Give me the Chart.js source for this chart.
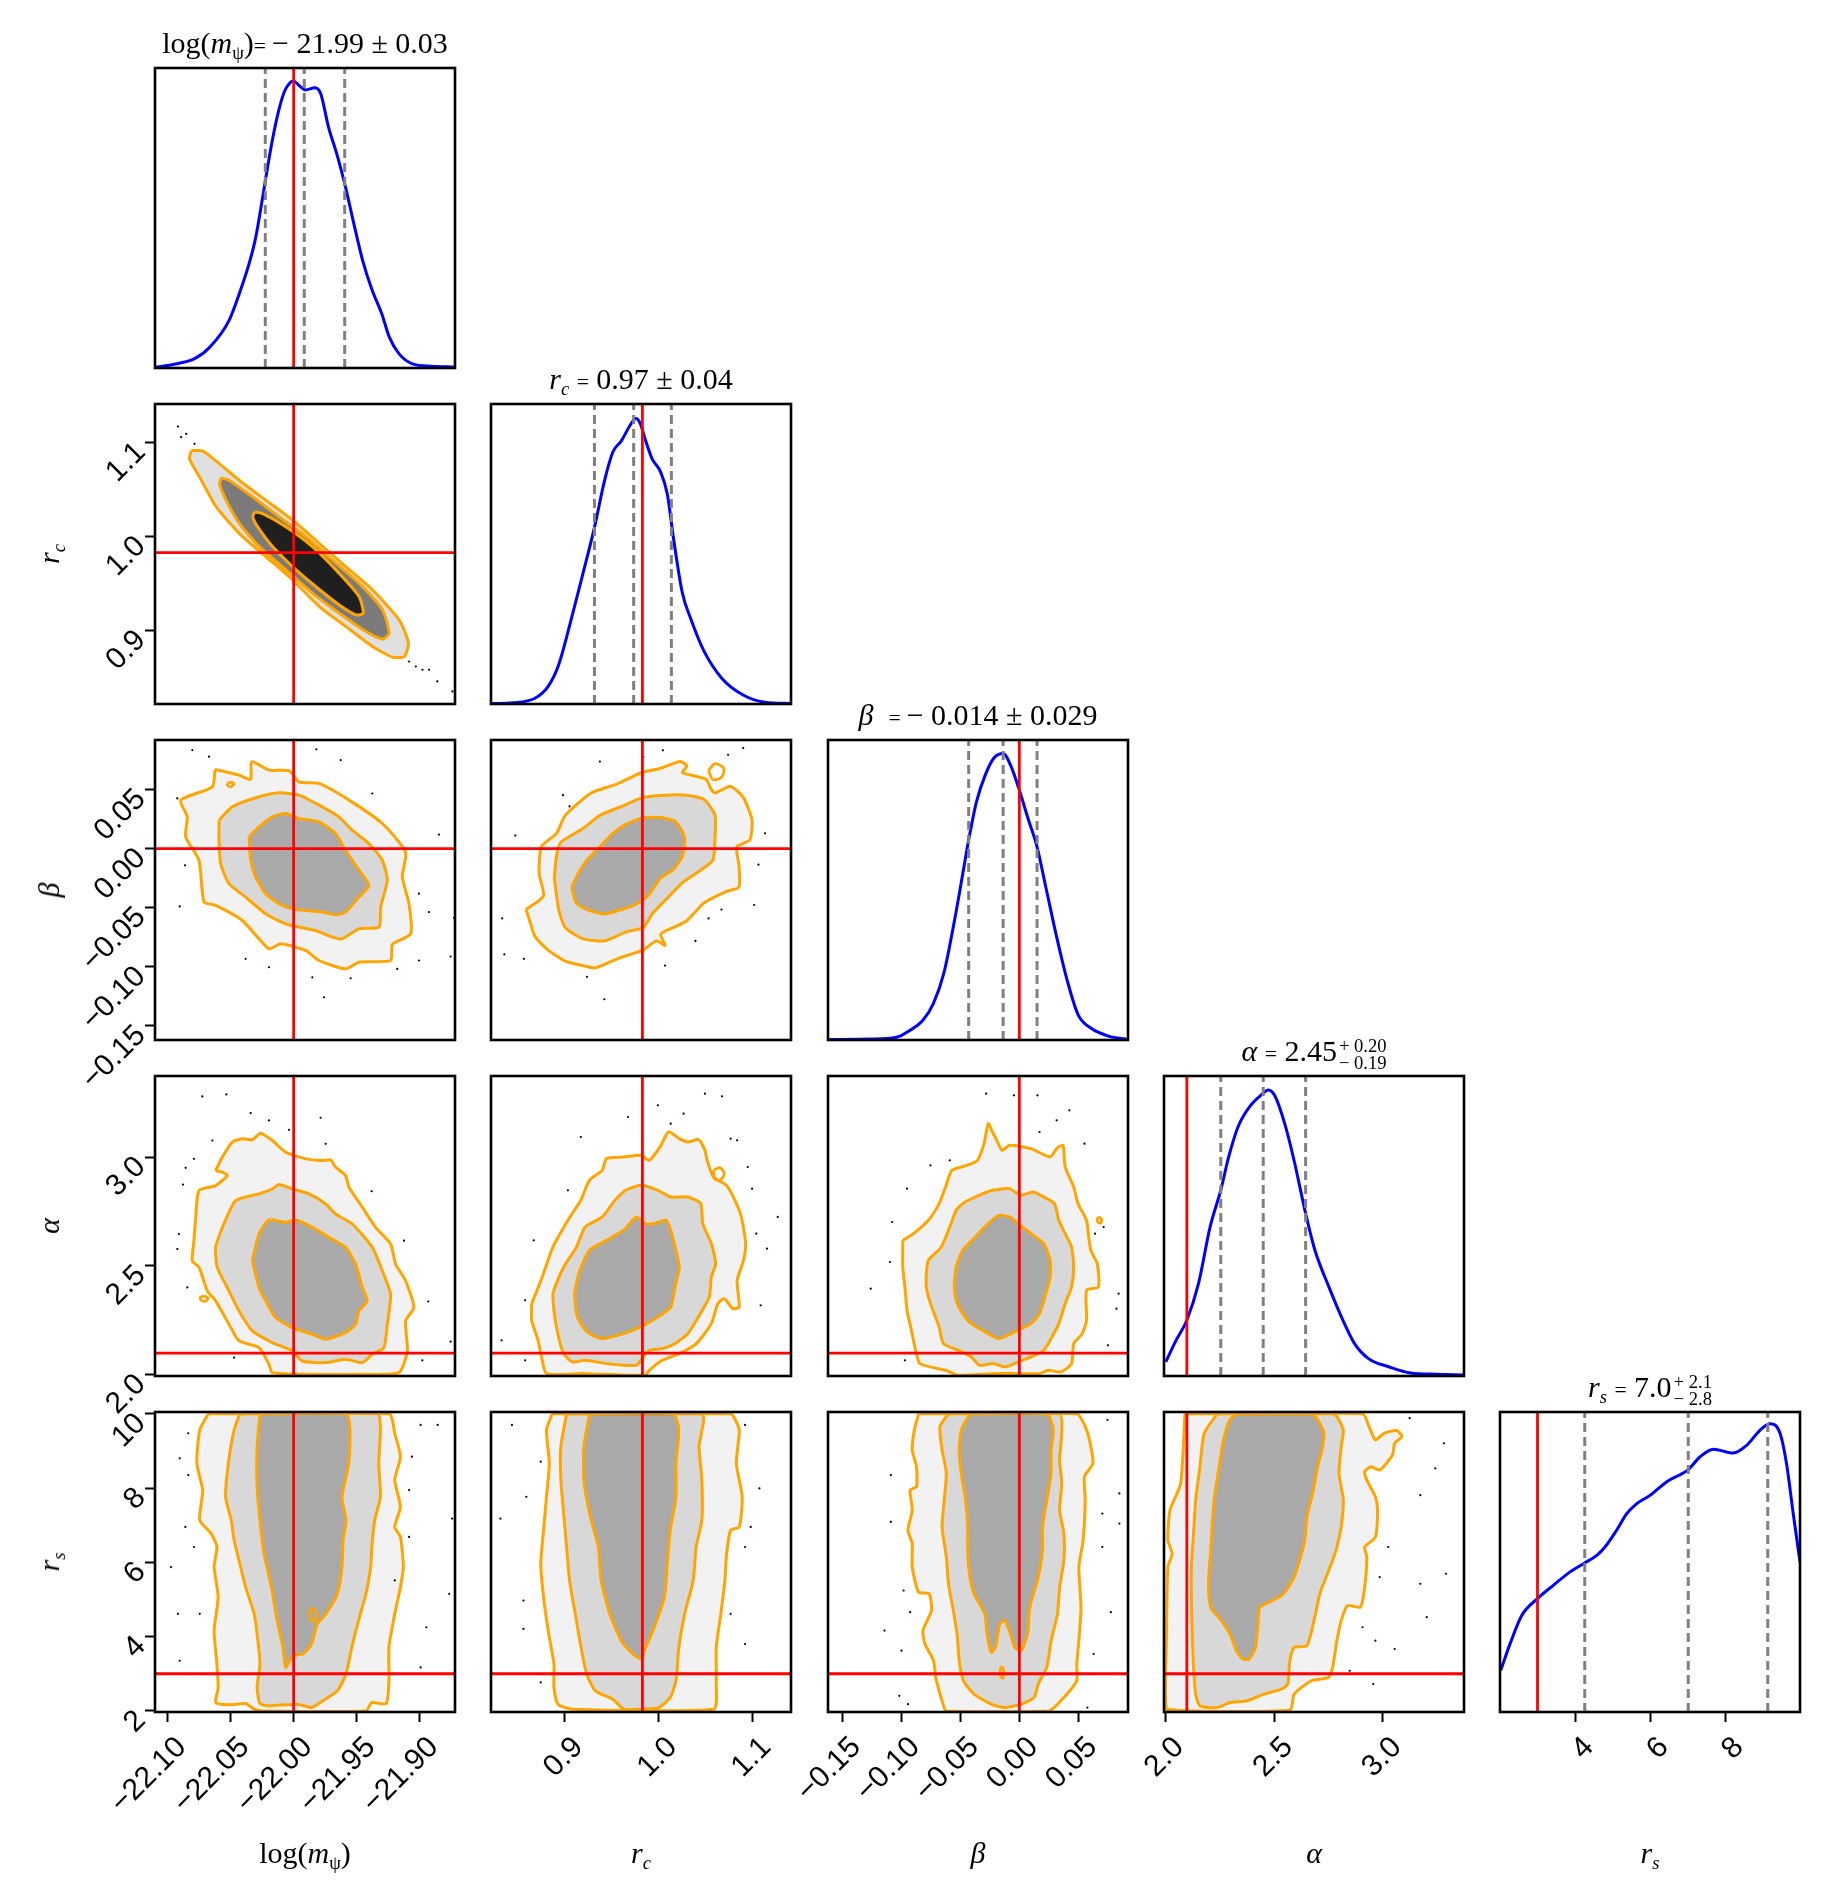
<!DOCTYPE html>
<html><head><meta charset="utf-8">
<script src="https://cdn.jsdelivr.net/npm/chart.js"></script>
<style>
html,body{margin:0;padding:0;background:#fff;}
body{width:1832px;height:1900px;position:relative;overflow:hidden;font-family:'Liberation Serif','DejaVu Serif',serif;color:#000;}
canvas{position:absolute;}
.t{position:absolute;text-align:center;white-space:nowrap;font-size:30px;line-height:40px;height:40px;}
.lab{position:absolute;white-space:nowrap;font-size:30px;line-height:32px;}
.eq{font-size:0.72em;}
sub{font-size:0.62em;vertical-align:-0.3em;line-height:0;}
.ss{display:inline-block;vertical-align:-0.45em;font-size:0.62em;line-height:0.95;text-align:left;margin-left:2px;}
.ss span{display:block;}
</style></head><body>
<script>
// ---------------- data ----------------
const RANGE_LOGM = [-22.110, -21.872];
const RANGE_RC = [0.822, 1.141];
const RANGE_BETA = [-0.162, 0.092];
const RANGE_ALPHA = [1.994, 3.373];
const RANGE_RS = [1.97, 10.05];
const RANGE_RS_DIAG = [2.0, 10.0];

const TICKS_LOGM = [-22.10, -22.05, -22.00, -21.95, -21.90];
const TICKS_RC = [0.9, 1.0, 1.1];
const TICKS_BETA = [-0.15, -0.10, -0.05, 0.00, 0.05];
const TICKS_ALPHA = [2.0, 2.5, 3.0];
const TICKS_RS = [2, 4, 6, 8, 10];
const TICKS_RS_DIAG = [4, 6, 8];

const TRUTHS = [-22.00, 0.983, 0.000, 2.099, 3.0];

const QUANT_LOGM = [-22.0225, -21.9916, -21.9595];
const QUANT_RC = [0.932, 0.9737, 1.0138];
const QUANT_BETA = [-0.0429, -0.0137, 0.0150];
const QUANT_ALPHA = [2.255, 2.450, 2.645];
const QUANT_RS = [4.26, 7.02, 9.14];

const KDE_LOGM_X = [-22.110,-22.0967,-22.0786,-22.0664,-22.0512,-22.0422,-22.0346,-22.0300,-22.0241,-22.0179,-22.0124,-22.0074,-22.0029,-22.0003,-21.9953,-21.9908,-21.9831,-21.9786,-21.9724,-21.9651,-21.9589,-21.9529,-21.9453,-21.9377,-21.9301,-21.9241,-21.9165,-21.9058,-21.8908,-21.872];
const KDE_LOGM_Y = [0.003,0.011,0.031,0.070,0.159,0.259,0.359,0.437,0.582,0.737,0.849,0.921,0.951,0.957,0.940,0.927,0.934,0.915,0.804,0.704,0.604,0.493,0.359,0.259,0.181,0.103,0.048,0.014,0.006,0.003];
const KDE_RC_X = [0.822,0.8455,0.8687,0.8824,0.8940,0.9077,0.9192,0.9324,0.9426,0.9516,0.9608,0.9701,0.9762,0.9804,0.9864,0.9932,1.0024,1.0095,1.0162,1.0255,1.0348,1.0485,1.0671,1.0901,1.1132,1.141];
const KDE_RC_Y = [0.0015,0.004,0.019,0.057,0.131,0.287,0.428,0.594,0.743,0.840,0.878,0.930,0.952,0.937,0.878,0.818,0.773,0.699,0.549,0.370,0.281,0.176,0.087,0.030,0.006,0.0015];
const KDE_BETA_X = [-0.162,-0.1262,-0.1041,-0.0932,-0.0820,-0.0728,-0.0637,-0.0546,-0.0472,-0.0429,-0.0363,-0.0289,-0.0215,-0.0137,-0.0071,-0.0005,0.0077,0.0150,0.0224,0.0315,0.0407,0.0498,0.0608,0.0755,0.092];
const KDE_BETA_Y = [0.0015,0.003,0.009,0.031,0.064,0.121,0.226,0.405,0.570,0.667,0.794,0.883,0.940,0.955,0.913,0.839,0.734,0.644,0.510,0.345,0.196,0.084,0.039,0.013,0.0015];
const KDE_ALPHA_X = [2.0026,2.0454,2.0989,2.1525,2.2060,2.2552,2.2916,2.3345,2.3880,2.4415,2.4736,2.5057,2.5486,2.5914,2.6450,2.6878,2.7520,2.8162,2.8698,2.9340,3.0304,3.1268,3.2445,3.3730];
const KDE_ALPHA_Y = [0.047,0.113,0.186,0.308,0.497,0.620,0.731,0.831,0.898,0.937,0.953,0.931,0.842,0.720,0.542,0.419,0.297,0.186,0.108,0.058,0.030,0.010,0.006,0.003];
const KDE_RS_X = [2.02,2.27,2.58,3.0,3.42,3.87,4.26,4.58,4.80,5.11,5.38,5.64,6.0,6.44,7.02,7.33,7.69,8.22,8.58,8.93,9.2,9.47,9.64,9.82,10.0];
const KDE_RS_Y = [0.139,0.228,0.322,0.378,0.422,0.467,0.497,0.522,0.550,0.606,0.661,0.694,0.722,0.767,0.808,0.850,0.876,0.863,0.889,0.939,0.961,0.928,0.828,0.661,0.5];

// r_c vs log(m)
const CONT_RC_LOGM_OUTER = [[-22.0812,1.0915],[-22.0720,1.0908],[-22.0588,1.0774],[-22.0430,1.0597],[-22.0219,1.0385],[-22.0007,1.0174],[-21.9796,0.9926],[-21.9585,0.9679],[-21.9374,0.9432],[-21.9163,0.9114],[-21.9089,0.8866],[-21.9123,0.8725],[-21.9216,0.8718],[-21.9374,0.8831],[-21.9585,0.9043],[-21.9796,0.9255],[-22.0007,0.9538],[-22.0219,0.9785],[-22.0430,1.0032],[-22.0614,1.0315],[-22.0746,1.0633],[-22.0826,1.0827]];
const CONT_RC_LOGM_MID = [[-22.0575,1.0626],[-22.0509,1.0597],[-22.0324,1.0421],[-22.0113,1.0209],[-21.9902,0.9997],[-21.9691,0.9750],[-21.9480,0.9502],[-21.9295,0.9220],[-21.9242,0.8972],[-21.9295,0.8909],[-21.9427,0.8990],[-21.9638,0.9184],[-21.9849,0.9396],[-22.0060,0.9644],[-22.0271,0.9891],[-22.0430,1.0138],[-22.0535,1.0385],[-22.0588,1.0562]];
const CONT_RC_LOGM_INNER = [[-22.0311,1.0262],[-22.0245,1.0244],[-22.0060,1.0103],[-21.9849,0.9891],[-21.9638,0.9608],[-21.9480,0.9361],[-21.9448,0.9184],[-21.9506,0.9167],[-21.9638,0.9273],[-21.9823,0.9467],[-22.0007,0.9679],[-22.0166,0.9891],[-22.0285,1.0103],[-22.0324,1.0209]];
const PTS_RC_LOGM = [[-22.0918,1.1170],[-22.0892,1.1057],[-22.0852,1.1092],[-22.0786,1.0986],[-21.9084,0.8672],[-21.9031,0.8619],[-21.8978,0.8584],[-21.8926,0.8584],[-21.8860,0.8460],[-21.8741,0.8354]];

// beta vs log(m)
const CONT_BETA_LOGM_OUTER = [[-22.0624,0.0671],[-22.0434,0.0623],[-22.0341,0.0586],[-22.0333,0.0736],[-22.0196,0.0665],[-22.0037,0.0660],[-21.9958,0.0566],[-21.9799,0.0552],[-21.9561,0.0411],[-21.9297,0.0213],[-21.9112,-0.0028],[-21.9138,-0.0240],[-21.9085,-0.0466],[-21.9072,-0.0721],[-21.9217,-0.0811],[-21.9231,-0.0947],[-21.9482,-0.0961],[-21.9588,-0.1018],[-21.9799,-0.0947],[-21.9905,-0.0862],[-22.0103,-0.0806],[-22.0196,-0.0848],[-22.0407,-0.0608],[-22.0619,-0.0480],[-22.0711,-0.0452],[-22.0751,-0.0098],[-22.0857,0.0100],[-22.0844,0.0269],[-22.0896,0.0411],[-22.0645,0.0524]];
const CONT_BETA_LOGM_MID = [[-22.0592,0.0241],[-22.0487,0.0354],[-22.0275,0.0439],[-22.0116,0.0473],[-21.9958,0.0453],[-21.9773,0.0354],[-21.9641,0.0269],[-21.9535,0.0156],[-21.9403,0.0043],[-21.9297,-0.0098],[-21.9257,-0.0268],[-21.9310,-0.0495],[-21.9323,-0.0664],[-21.9482,-0.0678],[-21.9614,-0.0763],[-21.9693,-0.0749],[-21.9826,-0.0693],[-21.9958,-0.0664],[-22.0064,-0.0636],[-22.0222,-0.0551],[-22.0381,-0.0410],[-22.0513,-0.0296],[-22.0579,-0.0127],[-22.0592,0.0071]];
const CONT_BETA_LOGM_INNER = [[-22.0354,0.0100],[-22.0275,0.0184],[-22.0169,0.0269],[-22.0064,0.0298],[-21.9958,0.0255],[-21.9799,0.0227],[-21.9667,0.0128],[-21.9588,-0.0014],[-21.9482,-0.0183],[-21.9403,-0.0311],[-21.9482,-0.0410],[-21.9588,-0.0537],[-21.9667,-0.0560],[-21.9773,-0.0537],[-21.9905,-0.0523],[-22.0011,-0.0509],[-22.0116,-0.0466],[-22.0222,-0.0381],[-22.0302,-0.0240],[-22.0341,-0.0098]];
const CONT_BETA_LOGM_ISLAND = [[-22.0526,0.0552],[-22.0500,0.0564],[-22.0473,0.0547],[-22.0500,0.0524],[-22.0526,0.0538]];
const PTS_BETA_LOGM = [[-22.0804,0.0835],[-22.0672,0.0779],[-21.9820,0.0841],[-21.9627,0.0750],[-21.8847,0.0119],[-21.9006,-0.0381],[-21.8927,-0.0537],[-21.8755,-0.0913],[-21.8728,-0.0585],[-21.9006,-0.0947],[-21.9178,-0.1018],[-21.9548,-0.1097],[-21.9759,-0.1258],[-22.0196,-0.1004],[-22.0381,-0.0933],[-22.0862,-0.0141],[-22.0904,-0.0489],[-22.0923,0.0425],[-21.9376,0.0467],[-21.9852,-0.1089]];

// alpha vs log(m)
const CONT_ALPHA_LOGM_OUTER = [[-22.0619,2.9384],[-22.0566,2.9998],[-22.0487,3.0690],[-22.0407,3.0843],[-22.0328,3.0797],[-22.0262,3.1104],[-22.0169,3.0766],[-22.0064,3.0229],[-21.9905,2.9922],[-21.9773,2.9845],[-21.9707,2.9876],[-21.9667,2.9538],[-21.9588,2.9154],[-21.9561,2.8616],[-21.9455,2.7695],[-21.9350,2.6774],[-21.9231,2.6006],[-21.9191,2.5085],[-21.9112,2.4317],[-21.9046,2.3088],[-21.9112,2.2474],[-21.9098,2.1092],[-21.9165,2.0094],[-21.9482,2.0017],[-21.9852,2.0017],[-22.0169,2.0094],[-22.0196,2.0478],[-22.0275,2.1246],[-22.0434,2.1553],[-22.0513,2.2320],[-22.0619,2.3395],[-22.0685,2.3856],[-22.0751,2.4931],[-22.0804,2.5238],[-22.0791,2.6159],[-22.0777,2.7234],[-22.0751,2.8463],[-22.0619,2.8693],[-22.0526,2.9154],[-22.0566,2.9307]];
const CONT_ALPHA_LOGM_MID = [[-22.0566,2.6774],[-22.0460,2.8002],[-22.0275,2.8309],[-22.0169,2.8540],[-22.0116,2.8739],[-22.0011,2.8540],[-21.9878,2.8309],[-21.9746,2.7849],[-21.9667,2.7388],[-21.9535,2.6927],[-21.9376,2.5852],[-21.9297,2.4777],[-21.9231,2.3703],[-21.9257,2.2320],[-21.9284,2.1246],[-21.9376,2.0938],[-21.9455,2.0555],[-21.9588,2.0708],[-21.9746,2.0555],[-21.9931,2.0631],[-22.0011,2.1092],[-22.0169,2.1476],[-22.0328,2.2013],[-22.0434,2.2935],[-22.0513,2.3856],[-22.0606,2.4931],[-22.0619,2.5852]];
const CONT_ALPHA_LOGM_INNER = [[-22.0328,2.5238],[-22.0275,2.6467],[-22.0196,2.7112],[-22.0064,2.7004],[-21.9984,2.7112],[-21.9852,2.6774],[-21.9720,2.6313],[-21.9588,2.5852],[-21.9508,2.5085],[-21.9455,2.4010],[-21.9416,2.3395],[-21.9482,2.2935],[-21.9508,2.2320],[-21.9588,2.1937],[-21.9746,2.1630],[-21.9852,2.1860],[-22.0011,2.2167],[-22.0143,2.2628],[-22.0222,2.3395],[-22.0275,2.4010]];
const CONT_ALPHA_LOGM_ISLAND = [[-22.0715,2.3620],[-22.0680,2.3540],[-22.0695,2.3390],[-22.0735,2.3430],[-22.0740,2.3560]];
const PTS_ALPHA_LOGM = [[-22.0725,3.2793],[-22.0534,3.2885],[-22.0341,3.2025],[-22.0196,3.1688],[-21.9786,3.1810],[-22.0037,3.1258],[-22.0857,2.9507],[-22.0878,2.8739],[-21.9381,2.8432],[-21.9125,2.6159],[-21.8932,2.3365],[-21.8755,2.1522],[-21.8979,2.0662],[-22.0910,2.6467],[-22.0844,2.4010],[-22.0473,2.0785],[-22.0923,2.5776],[-22.0645,3.0766],[-22.0791,2.9922],[-21.9746,3.0613]];

// r_s vs log(m)
const CONT_RS_LOGM_OUTER = [[-22.0677,10.0],[-22.0745,9.568],[-22.0768,8.667],[-22.0722,7.946],[-22.0745,7.135],[-22.0654,6.775],[-22.0609,6.414],[-22.0631,5.874],[-22.0599,5.063],[-22.0631,4.162],[-22.0609,3.261],[-22.0599,2.631],[-22.0618,2.225],[-22.0518,2.162],[-22.0381,2.198],[-22.0313,2.045],[-22.0245,2.0],[-21.9426,2.0],[-21.9380,2.225],[-21.9266,2.198],[-21.9244,2.811],[-21.9244,3.712],[-21.9198,4.613],[-21.9153,5.333],[-21.9130,5.874],[-21.9153,6.685],[-21.9198,6.955],[-21.9153,7.495],[-21.9198,8.216],[-21.9153,8.847],[-21.9198,9.477],[-21.9244,10.0]];
const CONT_RS_LOGM_MID = [[-22.0427,10.0],[-22.0472,9.568],[-22.0518,8.667],[-22.0540,7.766],[-22.0495,7.135],[-22.0472,6.595],[-22.0427,5.964],[-22.0381,5.333],[-22.0313,4.613],[-22.0290,4.072],[-22.0267,3.261],[-22.0290,2.631],[-22.0267,2.198],[-22.0199,2.135],[-21.9972,2.180],[-21.9858,2.090],[-21.9790,2.225],[-21.9653,2.541],[-21.9585,2.991],[-21.9539,3.712],[-21.9471,4.613],[-21.9426,5.153],[-21.9389,5.874],[-21.9380,6.414],[-21.9357,7.135],[-21.9312,7.766],[-21.9325,8.667],[-21.9312,9.568],[-21.9335,10.0]];
const CONT_RS_LOGM_INNER = [[-22.0267,10.0],[-22.0290,9.117],[-22.0290,8.036],[-22.0267,7.135],[-22.0235,6.234],[-22.0176,5.333],[-22.0131,4.432],[-22.0085,3.712],[-22.0063,3.171],[-22.0008,3.486],[-21.9926,3.532],[-21.9858,3.802],[-21.9812,4.342],[-21.9744,4.613],[-21.9653,5.153],[-21.9617,5.874],[-21.9608,6.595],[-21.9585,7.135],[-21.9617,7.766],[-21.9562,8.667],[-21.9553,9.568],[-21.9585,10.0]];
const CONT_RS_LOGM_ISLAND = [[-21.9850,4.78],[-21.9818,4.62],[-21.9830,4.42],[-21.9862,4.45],[-21.9880,4.65]];
const PTS_RS_LOGM = [[-22.0836,9.477],[-22.0904,8.802],[-22.0836,8.351],[-22.0859,6.955],[-22.0791,6.414],[-22.0918,4.613],[-22.0836,2.991],[-22.0904,3.351],[-21.8993,9.703],[-21.8857,9.703],[-21.9084,7.946],[-21.9198,5.514],[-21.8993,3.171],[-21.8743,7.180],[-21.9084,6.685],[-21.8948,4.252],[-21.8766,5.153],[-22.0745,4.613],[-22.0973,5.874],[-21.9062,8.847]];

// beta vs r_c
const CONT_BETA_RC_OUTER = [[0.8593,-0.0515],[0.8778,-0.0401],[0.8732,-0.0212],[0.8755,0.0016],[0.8917,0.0130],[0.9009,0.0282],[0.9286,0.0472],[0.9563,0.0548],[0.9817,0.0643],[1.0025,0.0681],[1.0233,0.0738],[1.0302,0.0700],[1.0256,0.0643],[1.0440,0.0605],[1.0510,0.0586],[1.0556,0.0510],[1.0602,0.0472],[1.0764,0.0529],[1.0902,0.0434],[1.0995,0.0244],[1.0972,0.0073],[1.0833,0.0016],[1.0856,-0.0136],[1.0856,-0.0325],[1.0718,-0.0363],[1.0487,-0.0458],[1.0394,-0.0534],[1.0302,-0.0610],[1.0163,-0.0667],[1.0025,-0.0724],[1.0071,-0.0819],[0.9979,-0.0781],[0.9840,-0.0857],[0.9563,-0.0933],[0.9332,-0.1009],[0.9194,-0.0990],[0.9009,-0.0952],[0.8824,-0.0857],[0.8686,-0.0743],[0.8639,-0.0629]];
const CONT_BETA_RC_MID = [[0.8893,-0.0249],[0.8917,-0.0060],[0.8963,0.0054],[0.9194,0.0168],[0.9378,0.0282],[0.9609,0.0358],[0.9840,0.0434],[1.0071,0.0453],[1.0302,0.0453],[1.0487,0.0415],[1.0602,0.0282],[1.0602,0.0092],[1.0579,-0.0098],[1.0394,-0.0212],[1.0256,-0.0287],[1.0117,-0.0401],[0.9933,-0.0553],[0.9840,-0.0667],[0.9655,-0.0705],[0.9425,-0.0781],[0.9194,-0.0762],[0.9009,-0.0667],[0.8940,-0.0515]];
const CONT_BETA_RC_INNER = [[0.9078,-0.0325],[0.9147,-0.0212],[0.9240,-0.0098],[0.9378,0.0016],[0.9517,0.0130],[0.9655,0.0206],[0.9840,0.0263],[1.0025,0.0263],[1.0187,0.0225],[1.0279,0.0092],[1.0256,-0.0060],[1.0163,-0.0174],[1.0025,-0.0249],[0.9886,-0.0401],[0.9748,-0.0477],[0.9609,-0.0515],[0.9425,-0.0553],[0.9240,-0.0515],[0.9124,-0.0458]];
const CONT_BETA_RC_ISLAND = [[1.0533,0.0662],[1.0602,0.0719],[1.0694,0.0681],[1.0671,0.0605],[1.0579,0.0586]];
const PTS_BETA_RC = [[0.8339,-0.0591],[0.8478,0.0111],[0.8570,-0.0933],[0.8986,0.0453],[0.9055,0.0358],[0.9378,0.0738],[0.9840,0.0776],[1.0048,0.0833],[1.0741,0.0795],[1.0902,0.0852],[1.1064,-0.0136],[1.1018,-0.0477],[1.1133,0.0130],[0.9240,-0.1085],[0.9425,-0.1275],[1.0071,-0.0990],[1.0394,-0.0781],[0.8362,-0.0895],[1.0533,-0.0591],[1.0671,-0.0515]];

// alpha vs r_c
const CONT_ALPHA_RC_OUTER = [[0.8652,2.3266],[0.8765,2.4492],[0.8879,2.5871],[0.9038,2.7096],[0.9175,2.8016],[0.9266,2.8935],[0.9403,2.9394],[0.9448,2.9931],[0.9630,3.0007],[0.9812,3.0084],[0.9903,2.9854],[1.0017,3.0467],[1.0108,3.1156],[1.0222,3.0850],[1.0313,3.0697],[1.0427,3.0804],[1.0495,3.0314],[1.0518,2.9854],[1.0586,2.9088],[1.0723,2.8705],[1.0814,2.8016],[1.0882,2.7250],[1.0928,2.6024],[1.0905,2.5258],[1.0837,2.4339],[1.0859,2.3113],[1.0791,2.3037],[1.0700,2.3496],[1.0632,2.3266],[1.0563,2.2347],[1.0404,2.1428],[1.0222,2.0968],[1.0040,2.0662],[0.9903,2.0202],[0.9858,1.9973],[0.9221,2.0049],[0.8811,2.0049],[0.8765,2.0662],[0.8720,2.1581],[0.8652,2.2500]];
const CONT_ALPHA_RC_MID = [[0.8902,2.2500],[0.8879,2.3726],[0.8993,2.4952],[0.9130,2.5871],[0.9221,2.6790],[0.9403,2.7250],[0.9539,2.8016],[0.9653,2.8475],[0.9812,2.8705],[0.9994,2.8475],[1.0131,2.8169],[1.0313,2.8169],[1.0450,2.7862],[1.0472,2.6943],[1.0563,2.6024],[1.0609,2.5105],[1.0563,2.4492],[1.0541,2.3573],[1.0404,2.2500],[1.0313,2.1888],[1.0177,2.1428],[1.0040,2.1198],[0.9903,2.1122],[0.9812,2.0662],[0.9767,2.0432],[0.9630,2.0432],[0.9448,2.0509],[0.9221,2.0662],[0.9084,2.0585],[0.8993,2.0968],[0.8947,2.1581]];
const CONT_ALPHA_RC_INNER = [[0.9107,2.3726],[0.9152,2.4645],[0.9266,2.5718],[0.9448,2.6177],[0.9630,2.6637],[0.9767,2.7250],[0.9858,2.6943],[0.9949,2.6943],[1.0085,2.7096],[1.0131,2.6637],[1.0177,2.5871],[1.0222,2.4952],[1.0177,2.4032],[1.0131,2.3113],[0.9994,2.2654],[0.9812,2.2194],[0.9630,2.1888],[0.9403,2.1658],[0.9266,2.1888],[0.9175,2.2347],[0.9130,2.2807]];
const CONT_ALPHA_RC_ISLAND = [[1.0586,2.9394],[1.0654,2.9517],[1.0700,2.9240],[1.0654,2.8935],[1.0597,2.9010]];
const PTS_ALPHA_RC = [[0.8674,2.6177],[0.8583,2.3420],[0.8333,2.1581],[0.8583,2.0662],[0.9676,3.1846],[0.9994,3.2382],[1.0131,3.1539],[1.0268,3.1999],[1.0495,3.2918],[1.0677,3.2795],[1.0768,3.0850],[1.0837,3.0773],[1.0950,2.9548],[1.0996,2.8552],[1.1041,2.6484],[1.1155,2.5794],[1.1087,2.3190],[0.9175,3.0926],[0.9038,2.8475],[1.1269,2.7250]];

// alpha vs beta
const CONT_ALPHA_BETA_OUTER = [[-0.0987,2.6177],[-0.0896,2.6484],[-0.0770,2.7096],[-0.0679,2.7862],[-0.0625,2.8628],[-0.0571,2.9394],[-0.0444,2.9624],[-0.0354,2.9854],[-0.0299,3.0620],[-0.0263,3.1539],[-0.0227,3.1156],[-0.0191,3.0773],[-0.0147,3.0314],[-0.0082,3.0543],[0.0099,3.0390],[0.0261,3.0007],[0.0316,3.0390],[0.0370,3.0543],[0.0388,2.9548],[0.0460,2.8628],[0.0497,2.7862],[0.0569,2.7096],[0.0587,2.6331],[0.0605,2.5718],[0.0659,2.5105],[0.0670,2.4032],[0.0569,2.3879],[0.0569,2.2500],[0.0533,2.1888],[0.0460,2.1428],[0.0442,2.0509],[0.0352,2.0126],[0.0243,2.0202],[0.0171,2.0049],[-0.0010,2.0049],[-0.0227,2.0049],[-0.0517,1.9973],[-0.0625,2.0202],[-0.0842,2.0509],[-0.0878,2.1122],[-0.0914,2.2041],[-0.0951,2.2960],[-0.0969,2.4032],[-0.0987,2.4952]];
const CONT_ALPHA_BETA_MID = [[-0.0788,2.4645],[-0.0770,2.5258],[-0.0661,2.5871],[-0.0589,2.6790],[-0.0535,2.7556],[-0.0480,2.7862],[-0.0372,2.8169],[-0.0227,2.8475],[-0.0082,2.8552],[0.0008,2.8245],[0.0117,2.8399],[0.0207,2.8169],[0.0298,2.7862],[0.0334,2.7096],[0.0388,2.6484],[0.0442,2.5871],[0.0460,2.4952],[0.0442,2.4032],[0.0388,2.3266],[0.0334,2.2347],[0.0261,2.1581],[0.0207,2.1122],[0.0099,2.0815],[-0.0010,2.0585],[-0.0119,2.0356],[-0.0227,2.0509],[-0.0336,2.0432],[-0.0408,2.0815],[-0.0517,2.1122],[-0.0643,2.1428],[-0.0679,2.2194],[-0.0752,2.3266],[-0.0788,2.4032]];
const CONT_ALPHA_BETA_INNER = [[-0.0553,2.4032],[-0.0535,2.4952],[-0.0480,2.5718],[-0.0372,2.6331],[-0.0263,2.6943],[-0.0173,2.7326],[-0.0082,2.7250],[-0.0010,2.6943],[0.0099,2.6484],[0.0207,2.6024],[0.0261,2.5258],[0.0261,2.4492],[0.0225,2.3726],[0.0171,2.2807],[0.0099,2.2347],[-0.0010,2.2041],[-0.0173,2.1658],[-0.0263,2.1888],[-0.0408,2.2347],[-0.0480,2.2807],[-0.0535,2.3420]];
const CONT_ALPHA_BETA_ISLAND = [[0.0670,2.7250],[0.0695,2.7160],[0.0690,2.6980],[0.0665,2.7010],[0.0660,2.7150]];
const PTS_ALPHA_BETA = [[-0.1077,2.7020],[-0.1095,2.5181],[-0.1258,2.3956],[-0.0951,2.8552],[-0.0281,3.2918],[-0.0046,3.2841],[0.0153,3.2841],[0.0316,3.1692],[0.0551,3.0620],[0.0641,2.6484],[0.0714,2.6790],[0.0840,2.3726],[0.0750,2.1351],[0.0822,2.3037],[-0.0969,2.0662],[-0.0752,2.9624],[0.0171,3.1156],[-0.0589,2.9854],[0.0424,3.2152]];

// r_s vs r_c
const CONT_RS_RC_OUTER = [[0.8871,10.0],[0.8810,9.568],[0.8840,8.667],[0.8810,7.766],[0.8779,6.865],[0.8749,5.964],[0.8779,5.063],[0.8828,4.162],[0.8889,3.261],[0.8889,2.631],[0.8932,2.180],[0.9085,2.045],[1.0585,2.045],[1.0615,2.811],[1.0615,3.712],[1.0664,4.613],[1.0707,5.514],[1.0725,6.234],[1.0768,6.865],[1.0860,6.955],[1.0891,7.766],[1.0829,8.667],[1.0860,9.568],[1.0799,9.928],[1.0768,10.0]];
const CONT_RS_RC_MID = [[0.9024,10.0],[0.8963,9.117],[0.8963,8.216],[0.8993,7.315],[0.9024,6.414],[0.9055,5.514],[0.9116,4.613],[0.9177,3.712],[0.9238,2.991],[0.9330,2.541],[0.9514,2.315],[0.9636,2.045],[0.9820,2.045],[1.0003,2.090],[1.0126,2.360],[1.0187,2.811],[1.0217,3.712],[1.0279,4.613],[1.0370,5.514],[1.0401,6.414],[1.0462,7.135],[1.0462,8.216],[1.0432,9.117],[1.0462,10.0]];
const CONT_RS_RC_INNER = [[0.9269,10.0],[0.9208,9.117],[0.9208,8.216],[0.9269,7.315],[0.9361,6.414],[0.9391,5.514],[0.9483,4.613],[0.9605,3.892],[0.9728,3.532],[0.9820,3.396],[0.9850,3.622],[0.9942,4.162],[1.0064,5.063],[1.0095,5.964],[1.0126,6.865],[1.0187,7.766],[1.0187,8.667],[1.0217,9.568],[1.0156,10.0]];
const PTS_RS_RC = [[0.8443,9.703],[0.8749,8.712],[0.8596,7.766],[0.8320,7.180],[0.8565,4.973],[0.8565,4.207],[0.8749,2.766],[1.0982,6.955],[1.1074,7.991],[1.0921,9.703],[1.0768,4.613],[1.0921,6.414],[1.0921,3.802],[1.0615,2.180]];

// r_s vs beta
const CONT_RS_BETA_OUTER = [[-0.0853,10.0],[-0.0889,9.568],[-0.0907,9.027],[-0.0871,8.577],[-0.0871,8.036],[-0.0925,7.946],[-0.0907,7.405],[-0.0943,6.865],[-0.0907,6.504],[-0.0907,5.874],[-0.0853,5.198],[-0.0763,5.153],[-0.0744,4.703],[-0.0817,4.162],[-0.0799,3.802],[-0.0726,3.351],[-0.0708,2.901],[-0.0654,2.270],[-0.0618,2.0],[0.0251,2.0],[0.0377,2.360],[0.0486,2.811],[0.0486,3.261],[0.0504,3.892],[0.0522,4.793],[0.0504,5.874],[0.0540,6.595],[0.0558,7.676],[0.0551,8.306],[0.0623,8.667],[0.0594,9.297],[0.0558,9.658],[0.0486,10.0]];
const CONT_RS_BETA_MID = [[-0.0600,10.0],[-0.0672,9.658],[-0.0654,9.027],[-0.0618,8.396],[-0.0636,7.676],[-0.0654,6.955],[-0.0618,6.144],[-0.0600,5.423],[-0.0564,4.793],[-0.0527,4.072],[-0.0509,3.351],[-0.0473,2.811],[-0.0383,2.450],[-0.0238,2.180],[-0.0129,2.090],[0.0015,2.180],[0.0124,2.360],[0.0160,2.721],[0.0232,3.171],[0.0269,3.892],[0.0323,4.613],[0.0341,5.333],[0.0377,6.054],[0.0377,6.775],[0.0341,7.405],[0.0359,8.126],[0.0341,8.757],[0.0359,9.477],[0.0341,10.0]];
const CONT_RS_BETA_INNER = [[-0.0419,10.0],[-0.0491,9.568],[-0.0509,9.027],[-0.0491,8.396],[-0.0455,7.676],[-0.0437,6.955],[-0.0437,6.324],[-0.0419,5.604],[-0.0383,5.153],[-0.0292,4.613],[-0.0274,4.072],[-0.0238,3.577],[-0.0202,3.712],[-0.0166,4.342],[-0.0122,4.432],[-0.0075,4.072],[-0.0039,3.712],[0.0015,3.622],[0.0070,4.072],[0.0088,4.793],[0.0160,5.604],[0.0196,6.324],[0.0196,6.955],[0.0232,7.676],[0.0269,8.396],[0.0269,9.027],[0.0287,9.568],[0.0232,10.0]];
const CONT_RS_BETA_ISLAND = [[-0.0147,3.20],[-0.0130,3.05],[-0.0140,2.88],[-0.0160,2.95],[-0.0162,3.12]];
const PTS_RS_BETA = [[-0.1088,8.351],[-0.1088,7.090],[-0.0980,5.243],[-0.1142,4.162],[-0.1016,2.405],[-0.0943,2.180],[-0.0925,4.658],[-0.0998,3.622],[0.0775,4.658],[0.0847,7.856],[0.0847,7.045],[0.0703,6.414],[0.0630,3.532],[0.0576,2.090],[0.0746,9.838],[0.0703,7.315]];

// r_s vs alpha
const CONT_RS_ALPHA_OUTER = [[2.0904,10.0],[2.0707,8.126],[2.0215,7.405],[2.0117,6.595],[2.0314,6.234],[2.0117,5.874],[2.0058,4.072],[2.0058,2.045],[2.5723,2.018],[2.5920,2.450],[2.6706,2.811],[2.7493,2.901],[2.7690,3.171],[2.7887,3.892],[2.8083,4.432],[2.8378,4.838],[2.8969,4.793],[2.9165,5.333],[2.9264,6.144],[2.9165,6.414],[2.9657,6.685],[2.9755,7.405],[2.9657,7.766],[2.9264,8.216],[2.9165,8.441],[2.9460,8.577],[2.9854,8.486],[3.0444,8.892],[3.0542,9.207],[3.0877,9.387],[3.0640,9.550],[3.0050,9.477],[2.9657,9.297],[2.9362,9.658],[2.9067,10.0]];
const CONT_RS_ALPHA_MID = [[2.2379,10.0],[2.1789,9.477],[2.1592,8.577],[2.1396,7.676],[2.1297,6.775],[2.1199,5.874],[2.1199,4.973],[2.1238,4.072],[2.1297,3.171],[2.1396,2.450],[2.1592,2.135],[2.2379,2.090],[2.2969,2.225],[2.3756,2.270],[2.4543,2.450],[2.5330,2.586],[2.5625,2.721],[2.5723,3.351],[2.5920,3.712],[2.6510,3.757],[2.6903,4.613],[2.7100,5.153],[2.7690,6.054],[2.7887,6.414],[2.8083,6.955],[2.8182,7.676],[2.7985,8.396],[2.8083,9.117],[2.8182,9.568],[2.7887,9.928],[2.7690,10.0]];
const CONT_RS_ALPHA_INNER = [[2.3264,10.0],[2.2969,9.838],[2.2674,9.297],[2.2477,8.577],[2.2281,7.856],[2.2182,7.225],[2.2084,6.324],[2.1986,5.423],[2.2084,4.793],[2.2576,4.432],[2.2969,4.072],[2.3264,3.622],[2.3559,3.396],[2.3854,3.396],[2.4149,3.712],[2.4248,4.252],[2.4346,4.793],[2.4936,4.973],[2.5428,5.153],[2.5920,5.604],[2.6215,6.144],[2.6411,6.595],[2.6510,7.225],[2.6805,7.946],[2.7002,8.577],[2.7198,9.027],[2.7297,9.477],[2.7002,9.838],[2.6706,10.0]];
const PTS_RS_ALPHA = [[3.1231,9.883],[3.2804,9.207],[3.2411,8.532],[3.1722,7.811],[3.2903,5.694],[3.1722,5.423],[3.2017,4.523],[3.0542,3.667],[2.9854,5.604],[2.9559,2.721],[2.8477,3.081],[3.0247,6.414],[2.9067,4.252],[2.9657,3.892]];

// ---------------- layout / styling ----------------
const COLS = [155, 491, 828, 1164, 1500];
const ROWS = [68, 404, 740, 1076, 1412];
const PW = 300, PH = 300;
const PADL = 125, PADR = 40, PADT = 55, PADB = 140;
const YW = 115, XH = 130;

const AXES = [
  {range: RANGE_LOGM, ticks: TICKS_LOGM, dec: 2},
  {range: RANGE_RC, ticks: TICKS_RC, dec: 1},
  {range: RANGE_BETA, ticks: TICKS_BETA, dec: 2},
  {range: RANGE_ALPHA, ticks: TICKS_ALPHA, dec: 1},
  {range: RANGE_RS, ticks: TICKS_RS, dec: 0}
];
const DIAG = [
  {x: KDE_LOGM_X, y: KDE_LOGM_Y, q: QUANT_LOGM},
  {x: KDE_RC_X, y: KDE_RC_Y, q: QUANT_RC},
  {x: KDE_BETA_X, y: KDE_BETA_Y, q: QUANT_BETA},
  {x: KDE_ALPHA_X, y: KDE_ALPHA_Y, q: QUANT_ALPHA},
  {x: KDE_RS_X, y: KDE_RS_Y, q: QUANT_RS}
];
const SOFT = [0.05, 0.11, 0.22];
const OFF = {
  '1_0': {c: [CONT_RC_LOGM_OUTER, CONT_RC_LOGM_MID, CONT_RC_LOGM_INNER], isl: [], p: PTS_RC_LOGM, a: [0.12, 0.45, 0.75]},
  '2_0': {c: [CONT_BETA_LOGM_OUTER, CONT_BETA_LOGM_MID, CONT_BETA_LOGM_INNER], isl: [CONT_BETA_LOGM_ISLAND], p: PTS_BETA_LOGM, a: SOFT},
  '3_0': {c: [CONT_ALPHA_LOGM_OUTER, CONT_ALPHA_LOGM_MID, CONT_ALPHA_LOGM_INNER], isl: [CONT_ALPHA_LOGM_ISLAND], p: PTS_ALPHA_LOGM, a: SOFT},
  '4_0': {c: [CONT_RS_LOGM_OUTER, CONT_RS_LOGM_MID, CONT_RS_LOGM_INNER], isl: [CONT_RS_LOGM_ISLAND], p: PTS_RS_LOGM, a: SOFT},
  '2_1': {c: [CONT_BETA_RC_OUTER, CONT_BETA_RC_MID, CONT_BETA_RC_INNER], isl: [CONT_BETA_RC_ISLAND], p: PTS_BETA_RC, a: SOFT},
  '3_1': {c: [CONT_ALPHA_RC_OUTER, CONT_ALPHA_RC_MID, CONT_ALPHA_RC_INNER], isl: [CONT_ALPHA_RC_ISLAND], p: PTS_ALPHA_RC, a: SOFT},
  '4_1': {c: [CONT_RS_RC_OUTER, CONT_RS_RC_MID, CONT_RS_RC_INNER], isl: [], p: PTS_RS_RC, a: SOFT},
  '3_2': {c: [CONT_ALPHA_BETA_OUTER, CONT_ALPHA_BETA_MID, CONT_ALPHA_BETA_INNER], isl: [CONT_ALPHA_BETA_ISLAND], p: PTS_ALPHA_BETA, a: SOFT},
  '4_2': {c: [CONT_RS_BETA_OUTER, CONT_RS_BETA_MID, CONT_RS_BETA_INNER], isl: [CONT_RS_BETA_ISLAND], p: PTS_RS_BETA, a: SOFT},
  '4_3': {c: [CONT_RS_ALPHA_OUTER, CONT_RS_ALPHA_MID, CONT_RS_ALPHA_INNER], isl: [], p: PTS_RS_ALPHA, a: SOFT}
};

const TITLES = [
  'log(<i>m</i><sub>ψ</sub>)<span class="eq">=</span>\u2009− 21.99 ± 0.03',
  '<i>r</i><sub><i>c</i></sub> <span class="eq">=</span> 0.97 ± 0.04',
  '<i>β</i> &nbsp;<span class="eq">=</span>\u2009− 0.014 ± 0.029',
  '<i>α</i> <span class="eq">=</span> 2.45<span class="ss"><span>+ 0.20</span><span>− 0.19</span></span>',
  '<i>r</i><sub><i>s</i></sub> <span class="eq">=</span> 7.0<span class="ss"><span>+ 2.1</span><span>− 2.8</span></span>'
];
const LABELS = [
  'log(<i>m</i><sub>ψ</sub>)',
  '<i>r</i><sub><i>c</i></sub>',
  '<i>β</i>',
  '<i>α</i>',
  '<i>r</i><sub><i>s</i></sub>'
];

function fmt(v, d) { return Number(v).toFixed(d).replace('-', '\u2212'); }
function toPts(arr) { return arr.map(p => ({x: p[0], y: p[1]})); }
function closedPts(arr) { const a = toPts(arr); a.push({x: arr[0][0], y: arr[0][1]}); return a; }

const framePlugin = {
  id: 'frame',
  afterDatasetsDraw(chart) {
    const {ctx, chartArea: a} = chart;
    ctx.save();
    ctx.strokeStyle = '#000';
    ctx.lineWidth = 2.6;
    ctx.strokeRect(a.left, a.top, a.right - a.left, a.bottom - a.top);
    ctx.restore();
  }
};

function scaleCfg(range, ticks, dec, show, isX) {
  return {
    type: 'linear', min: range[0], max: range[1], display: show,
    afterBuildTicks: s => { s.ticks = ticks.map(v => ({value: v})); },
    afterFit: s => {
      if (isX) s.height = show ? XH : 0;
      else s.width = show ? YW : 0;
    },
    grid: {display: true, drawOnChartArea: false, drawTicks: true, tickLength: 10, tickWidth: 2, color: '#000', tickColor: '#000'},
    border: {display: false},
    ticks: {display: true, autoSkip: false, minRotation: 45, maxRotation: 45, padding: isX ? 8 : 4,
            labelOffset: isX ? 14 : 5, color: '#000',
            font: {family: 'Liberation Sans', size: 30}, callback: v => fmt(v, dec)}
  };
}

const RED = '#ff0000', ORANGE = '#ffa500', BLUE = '#0000ff', GREY = '#808080';

for (let i = 0; i < 5; i++) {
  for (let j = 0; j <= i; j++) {
    const cv = document.createElement('canvas');
    const W = PW + PADL + PADR, H = PH + PADT + PADB;
    cv.width = W; cv.height = H;
    cv.style.left = (COLS[j] - PADL) + 'px';
    cv.style.top = (ROWS[i] - PADT) + 'px';
    cv.style.width = W + 'px'; cv.style.height = H + 'px';
    document.body.appendChild(cv);

    const diag = (i === j);
    const xAx = AXES[j];
    const xRange = (diag && j === 4) ? RANGE_RS_DIAG : xAx.range;
    const xTicks = (diag && j === 4) ? TICKS_RS_DIAG : xAx.ticks;
    const yRange = diag ? [0, 1] : AXES[i].range;
    const showX = (i === 4);
    const showY = (j === 0 && i > 0);
    const datasets = [];

    if (diag) {
      const d = DIAG[j];
      datasets.push({type: 'line', data: d.x.map((x, k) => ({x: x, y: d.y[k]})), borderColor: BLUE, borderWidth: 3,
        pointRadius: 0, fill: false, cubicInterpolationMode: 'monotone', order: 2});
      d.q.forEach(q => datasets.push({type: 'line', data: [{x: q, y: yRange[0]}, {x: q, y: yRange[1]}], borderColor: GREY,
        borderWidth: 3, borderDash: [9, 5], pointRadius: 0, fill: false, order: 1}));
      datasets.push({type: 'line', data: [{x: TRUTHS[j], y: yRange[0]}, {x: TRUTHS[j], y: yRange[1]}], borderColor: RED,
        borderWidth: 2.8, pointRadius: 0, fill: false, order: 0});
    } else {
      const o = OFF[i + '_' + j];
      datasets.push({type: 'scatter', data: toPts(o.p), pointRadius: 1.1, pointBackgroundColor: '#000', pointBorderWidth: 0, order: 10});
      o.c.forEach((c, k) => datasets.push({type: 'line', data: closedPts(c), borderColor: ORANGE, borderWidth: 3,
        pointRadius: 0, tension: 0.2, fill: 'shape', backgroundColor: 'rgba(0,0,0,' + o.a[k] + ')', order: 8 - k}));
      o.isl.forEach(c => datasets.push({type: 'line', data: closedPts(c), borderColor: ORANGE, borderWidth: 2.8,
        pointRadius: 0, tension: 0.3, fill: false, order: 5}));
      datasets.push({type: 'line', data: [{x: TRUTHS[j], y: yRange[0]}, {x: TRUTHS[j], y: yRange[1]}], borderColor: RED,
        borderWidth: 2.8, pointRadius: 0, fill: false, order: 0});
      datasets.push({type: 'line', data: [{x: xRange[0], y: TRUTHS[i]}, {x: xRange[1], y: TRUTHS[i]}], borderColor: RED,
        borderWidth: 2.8, pointRadius: 0, fill: false, order: 0});
    }

    new Chart(cv, {
      type: 'scatter',
      data: {datasets: datasets},
      options: {
        responsive: false, animation: false, events: [],
        layout: {padding: {left: PADL - (showY ? YW : 0), right: PADR, top: PADT, bottom: PADB - (showX ? XH : 0)}},
        plugins: {legend: {display: false}, tooltip: {enabled: false}},
        scales: {
          x: scaleCfg(xRange, xTicks, xAx.dec, showX, true),
          y: scaleCfg(yRange, diag ? [] : AXES[i].ticks, AXES[i].dec, showY, false)
        }
      },
      plugins: [framePlugin]
    });
  }
}

// titles above diagonal panels
for (let j = 0; j < 5; j++) {
  const d = document.createElement('div');
  d.className = 't';
  d.style.left = (COLS[j] - 40) + 'px';
  d.style.width = (PW + 80) + 'px';
  d.style.top = (ROWS[j] - 45) + 'px';
  d.innerHTML = TITLES[j];
  document.body.appendChild(d);
}
// bottom axis labels
for (let j = 0; j < 5; j++) {
  const d = document.createElement('div');
  d.className = 'lab';
  d.style.left = (COLS[j] + PW / 2) + 'px';
  d.style.top = '1853px';
  d.style.transform = 'translate(-50%,-50%)';
  d.innerHTML = LABELS[j];
  document.body.appendChild(d);
}
// left axis labels
for (let i = 1; i < 5; i++) {
  const d = document.createElement('div');
  d.className = 'lab';
  d.style.left = '49px';
  d.style.top = (ROWS[i] + PH / 2) + 'px';
  d.style.transform = 'translate(-50%,-50%) rotate(-90deg)';
  d.innerHTML = LABELS[i];
  document.body.appendChild(d);
}
</script>
</body></html>
